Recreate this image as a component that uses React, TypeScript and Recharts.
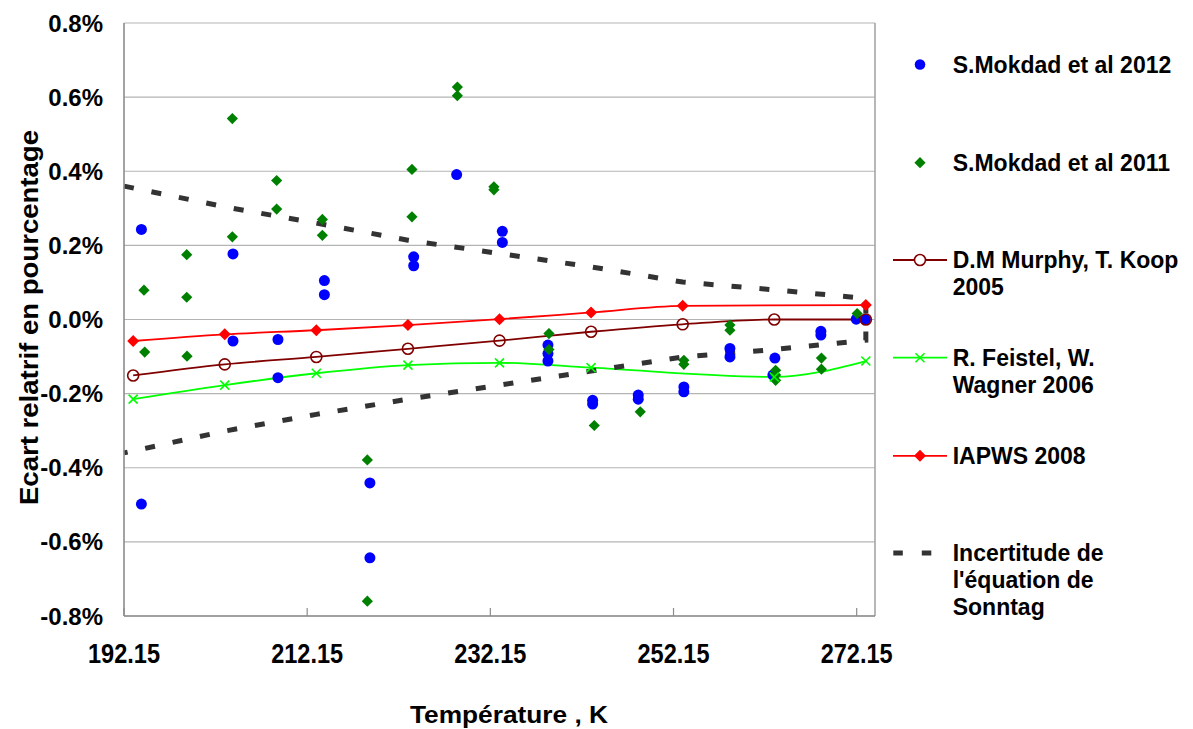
import React from 'react';
import { ComposedChart, Scatter, Line, XAxis, YAxis, CartesianGrid, ReferenceLine, Legend } from 'recharts';

const FONT = '"Liberation Sans", Arial, sans-serif';

const xTicks = [192.15, 212.15, 232.15, 252.15, 272.15];
const yTicks = [-0.8, -0.6, -0.4, -0.2, 0, 0.2, 0.4, 0.6, 0.8];

// S.Mokdad et al 2012 : [temperature K, relative deviation %]
const mokdad2012: [number, number][] = [
  [194.05, 0.243], [194.05, -0.498],
  [204.05, 0.177], [204.05, -0.058],
  [208.96, -0.054], [208.96, -0.157],
  [214.03, 0.105], [214.03, 0.067],
  [219.0, -0.441], [219.0, -0.643],
  [223.78, 0.169], [223.78, 0.145],
  [228.47, 0.391],
  [233.46, 0.238], [233.46, 0.208],
  [238.44, -0.069], [238.44, -0.092], [238.44, -0.112],
  [243.32, -0.218], [243.32, -0.228],
  [248.3, -0.204], [248.3, -0.215],
  [253.28, -0.182], [253.28, -0.195],
  [258.31, -0.078], [258.31, -0.101],
  [263.22, -0.104], [263.0, -0.15],
  [268.24, -0.032], [268.24, -0.042],
  [272.1, 0.001], [273.1, 0.0],
];

// S.Mokdad et al 2011
const mokdad2011: [number, number][] = [
  [194.33, 0.079], [194.41, -0.088],
  [199.0, 0.175], [199.0, 0.06], [199.03, -0.099],
  [203.98, 0.542], [203.98, 0.223],
  [208.82, 0.375], [208.82, 0.298],
  [213.81, 0.27], [213.81, 0.227],
  [218.72, -0.379], [218.72, -0.76],
  [223.59, 0.405], [223.59, 0.277],
  [228.55, 0.627], [228.55, 0.604],
  [232.54, 0.358], [232.54, 0.35],
  [238.55, -0.038], [238.55, -0.081],
  [243.5, -0.286],
  [248.52, -0.249],
  [253.28, -0.11], [253.28, -0.121],
  [258.31, -0.015], [258.31, -0.029],
  [263.3, -0.137], [263.3, -0.15], [263.3, -0.164],
  [268.3, -0.104], [268.3, -0.134],
  [272.2, 0.016],
];

const modelTemps = [193.15, 203.15, 213.15, 223.15, 233.15, 243.15, 253.15, 263.15, 273.15];
const murphyKoop = [-0.151, -0.121, -0.101, -0.079, -0.057, -0.033, -0.013, 0.0, 0.0];
const feistelWagner = [-0.215, -0.177, -0.145, -0.123, -0.117, -0.13, null, -0.155, -0.112];
const iapws = [-0.058, -0.04, -0.029, -0.015, 0.001, 0.019, 0.037, null, 0.039];

const sonntagTemps = [192.15, 203.15, 213.15, 223.15, 233.15, 243.15, 253.15, 263.15, 273.15];
const sonntagUpper = [0.36, 0.304, 0.26, 0.214, 0.178, 0.142, 0.101, 0.08, 0.057];
const sonntagLower = [-0.36, -0.301, -0.256, -0.215, -0.177, -0.139, -0.101, -0.081, -0.056];

const toPts = (arr: [number, number][]) => arr.map(([t, v]) => ({ t, v }));
const toSeries = (temps: number[], vals: (number | null)[]) => temps.map((t, i) => ({ t, v: vals[i] }));

const d2012 = toPts(mokdad2012);
const d2011 = toPts(mokdad2011);
const dMurphy = toSeries(modelTemps, murphyKoop);
const dFeistel = toSeries(modelTemps, feistelWagner);
const dIapws = toSeries(modelTemps, iapws);
const dSonntag = [
  ...toSeries(sonntagTemps, sonntagUpper),
  ...toSeries(sonntagTemps, sonntagLower).reverse(),
];

const BLUE = '#0000ff';
const GREEN = '#008000';
const MAROON = '#800000';
const LIME = '#00ff00';
const RED = '#ff0000';
const DASH = '#333333';

const diamond = (cx: number, cy: number, h: number) =>
  `${cx},${cy - h} ${cx + h},${cy} ${cx},${cy + h} ${cx - h},${cy}`;

const BlueDot = (p: any) => <circle cx={p.cx} cy={p.cy} r={5.5} fill={BLUE} />;
const GreenDiamond = (p: any) => <polygon points={diamond(p.cx, p.cy, 5.6)} fill={GREEN} />;

const murphyDot = (p: any) =>
  p.cx == null || p.value == null ? <g key={`m${p.index}`} /> : (
    <circle key={`m${p.index}`} cx={p.cx} cy={p.cy} r={5.5} fill="none" stroke={MAROON} strokeWidth={1.6} />
  );
const feistelDot = (p: any) =>
  p.cx == null || p.value == null ? <g key={`f${p.index}`} /> : (
    <g key={`f${p.index}`} stroke={LIME} strokeWidth={1.6}>
      <line x1={p.cx - 4.5} y1={p.cy - 4.5} x2={p.cx + 4.5} y2={p.cy + 4.5} />
      <line x1={p.cx - 4.5} y1={p.cy + 4.5} x2={p.cx + 4.5} y2={p.cy - 4.5} />
    </g>
  );
const iapwsDot = (p: any) =>
  p.cx == null || p.value == null ? <g key={`i${p.index}`} /> : (
    <polygon key={`i${p.index}`} points={diamond(p.cx, p.cy, 6)} fill={RED} />
  );

const XTick = (p: any) => (
  <text
    x={p.x}
    y={p.y}
    textAnchor="middle"
    fontFamily={FONT}
    fontWeight="bold"
    fontSize={27}
    fill="#000"
    textLength={72}
    lengthAdjust="spacingAndGlyphs"
  >
    {Number(p.payload.value).toFixed(2)}
  </text>
);

const legendRows = [
  { kind: 'dot', lines: ['S.Mokdad et al 2012'], y: 34.5 },
  { kind: 'diamond', lines: ['S.Mokdad et al 2011'], y: 132.7 },
  { kind: 'murphy', lines: ['D.M Murphy, T. Koop', '2005'], y: 230 },
  { kind: 'feistel', lines: ['R. Feistel, W.', 'Wagner 2006'], y: 327.7 },
  { kind: 'iapws', lines: ['IAPWS 2008'], y: 425.8 },
  { kind: 'sonntag', lines: ['Incertitude de', "l'équation de", 'Sonntag'], y: 523 },
];

const renderLegend = () => (
  <svg width={308} height={600} style={{ overflow: 'visible', display: 'block' }}>
    {legendRows.map((r, i) => {
      const sx = 35;
      let sym: React.ReactNode = null;
      if (r.kind === 'dot') sym = <circle cx={sx} cy={r.y} r={5.3} fill={BLUE} />;
      if (r.kind === 'diamond') sym = <polygon points={diamond(sx, r.y, 5.6)} fill={GREEN} />;
      if (r.kind === 'murphy')
        sym = (
          <g>
            <line x1={8} x2={62} y1={r.y} y2={r.y} stroke={MAROON} strokeWidth={1.8} />
            <circle cx={sx} cy={r.y} r={5.5} fill="#fff" stroke={MAROON} strokeWidth={1.6} />
          </g>
        );
      if (r.kind === 'feistel')
        sym = (
          <g stroke={LIME} strokeWidth={1.6}>
            <line x1={8} x2={62} y1={r.y} y2={r.y} strokeWidth={1.8} />
            <line x1={sx - 4.5} y1={r.y - 4.5} x2={sx + 4.5} y2={r.y + 4.5} />
            <line x1={sx - 4.5} y1={r.y + 4.5} x2={sx + 4.5} y2={r.y - 4.5} />
          </g>
        );
      if (r.kind === 'iapws')
        sym = (
          <g>
            <line x1={8} x2={62} y1={r.y} y2={r.y} stroke={RED} strokeWidth={1.8} />
            <polygon points={diamond(sx, r.y, 6)} fill={RED} />
          </g>
        );
      if (r.kind === 'sonntag')
        sym = <line x1={8.3} x2={47} y1={r.y} y2={r.y} stroke={DASH} strokeWidth={5} strokeDasharray="9.5 19" />;
      return (
        <g key={i}>
          {sym}
          {r.lines.map((ln, j) => (
            <text
              key={j}
              x={67.7}
              y={r.y + 8.3 + j * 27}
              fontFamily={FONT}
              fontWeight="bold"
              fontSize={23}
              fill="#000"
            >
              {ln}
            </text>
          ))}
        </g>
      );
    })}
  </svg>
);

export default function App() {
  return (
    <div style={{ position: 'absolute', left: 0, top: 0, width: 1193, height: 729, background: '#fff' }}>
      <ComposedChart width={1193} height={729} margin={{ top: 23, right: 318, bottom: 0, left: 0 }}>
        <CartesianGrid vertical={false} stroke="#b4b4b4" strokeWidth={1.2} />
        <XAxis
          type="number"
          dataKey="t"
          domain={[192.15, 274.15]}
          ticks={xTicks}
          interval={0}
          height={113}
          stroke="#8c8c8c"
          axisLine={{ stroke: '#8c8c8c', strokeWidth: 1.6 }}
          tickLine={{ stroke: '#8c8c8c', strokeWidth: 1.2 }}
          tickSize={-8}
          tickMargin={55}
          tick={<XTick />}
        />
        <YAxis
          type="number"
          dataKey="v"
          domain={[-0.8, 0.8]}
          ticks={yTicks}
          interval={0}
          width={124}
          axisLine={{ stroke: '#8c8c8c', strokeWidth: 1.6 }}
          tickLine={false}
          tickSize={0}
          tickMargin={21}
          tickFormatter={(v: number) => `${v.toFixed(1)}%`}
          tick={{ fill: '#000', fontSize: 24, fontWeight: 'bold', fontFamily: FONT }}
        />
        <ReferenceLine x={274.15} stroke="#a6a6a6" strokeWidth={1.6} />
        <Scatter name="S.Mokdad et al 2012" data={d2012} dataKey="v" shape={BlueDot} isAnimationActive={false} />
        <Scatter name="S.Mokdad et al 2011" data={d2011} dataKey="v" shape={GreenDiamond} isAnimationActive={false} />
        <Line
          name="D.M Murphy, T. Koop 2005"
          data={dMurphy}
          dataKey="v"
          type="monotone"
          stroke={MAROON}
          strokeWidth={1.8}
          dot={murphyDot}
          activeDot={false}
          connectNulls
          isAnimationActive={false}
        />
        <Line
          name="R. Feistel, W. Wagner 2006"
          data={dFeistel}
          dataKey="v"
          type="monotone"
          stroke={LIME}
          strokeWidth={1.8}
          dot={feistelDot}
          activeDot={false}
          connectNulls
          isAnimationActive={false}
        />
        <Line
          name="IAPWS 2008"
          data={dIapws}
          dataKey="v"
          type="monotone"
          stroke={RED}
          strokeWidth={1.8}
          dot={iapwsDot}
          activeDot={false}
          connectNulls
          isAnimationActive={false}
        />
        <Line
          name="Incertitude de l'équation de Sonntag"
          data={dSonntag}
          dataKey="v"
          type="linear"
          stroke={DASH}
          strokeWidth={5}
          strokeDasharray="10 18"
          dot={false}
          activeDot={false}
          isAnimationActive={false}
        />
        <Legend
          layout="vertical"
          align="center"
          verticalAlign="middle"
          content={renderLegend}
          wrapperStyle={{ left: 885, top: 30, width: 308, height: 600 }}
        />
        <text
          transform="translate(38,317.5) rotate(-90)"
          textAnchor="middle"
          fontFamily={FONT}
          fontWeight="bold"
          fontSize={26}
          fill="#000"
          textLength={375}
          lengthAdjust="spacingAndGlyphs"
        >
          Ecart relatrif en pourcentage
        </text>
        <text
          x={509}
          y={723}
          textAnchor="middle"
          fontFamily={FONT}
          fontWeight="bold"
          fontSize={24}
          fill="#000"
          textLength={198}
          lengthAdjust="spacingAndGlyphs"
        >
          Température , K
        </text>
      </ComposedChart>
    </div>
  );
}
